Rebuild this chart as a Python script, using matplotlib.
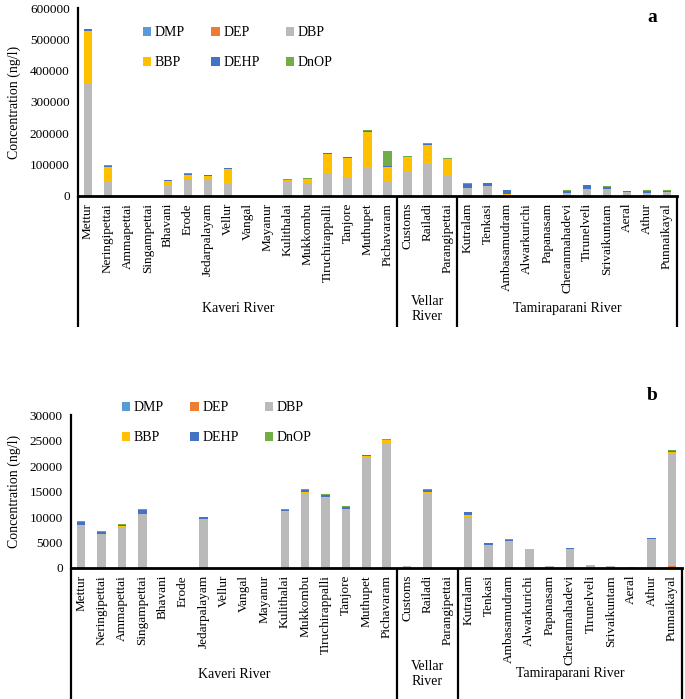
import numpy as np
import matplotlib
matplotlib.use('Agg')
import matplotlib.pyplot as plt

# Sampling sites (Kaveri 16, Vellar 3, Tamiraparani 11)
sites = ['Mettur', 'Neringipettai', 'Ammapettai', 'Singampettai', 'Bhavani', 'Erode',
         'Jedarpalayam', 'Vellur', 'Vangal', 'Mayanur', 'Kulithalai', 'Mukkombu',
         'Tiruchirappalli', 'Tanjore', 'Muthupet', 'Pichavaram',
         'Customs', 'Railadi', 'Parangipettai',
         'Kutralam', 'Tenkasi', 'Ambasamudram', 'Alwarkurichi', 'Papanasam',
         'Cheranmahadevi', 'Tirunelveli', 'Srivaikuntam', 'Aeral', 'Athur', 'Punnaikayal']
rivers = ['Kaveri River', 'Vellar\nRiver', 'Tamiraparani River']
river_sizes = [16, 3, 11]
compounds = ['DMP', 'DEP', 'DBP', 'BBP', 'DEHP', 'DnOP']

# Panel a (ng/l)
a_dmp = [1500, 800, 0, 0, 500, 500, 500, 500, 0, 0, 500, 500, 500, 500, 500, 300,
         500, 500, 500, 500, 500, 0, 0, 0, 300, 500, 300, 300, 0, 300]
a_dep = [0, 0, 0, 0, 0, 0, 0, 0, 0, 0, 0, 0, 0, 0, 0, 0,
         0, 0, 0, 0, 0, 1500, 0, 0, 0, 0, 0, 0, 0, 0]
a_dbp = [356000, 45000, 0, 0, 32000, 53000, 50000, 37000, 0, 0, 48000, 42500, 69000, 56000,
         93500, 45700, 76600, 103200, 67000, 26000, 31000, 2500, 0, 0, 9500, 21000, 23500,
         13500, 10000, 11500]
a_bbp = [169600, 47600, 0, 0, 16000, 14000, 14000, 48000, 0, 0, 3000, 10500, 64000, 64000,
         111500, 47000, 47000, 59600, 50000, 0, 0, 2500, 0, 0, 0, 0, 0, 0, 0, 0]
a_dehp = [5000, 2000, 0, 0, 2000, 3500, 2000, 2500, 0, 0, 1000, 1500, 2500, 2500, 2500, 2000,
          1500, 4000, 2000, 12000, 8500, 12000, 0, 0, 7500, 12500, 5500, 2000, 5000, 5500]
a_dnop = [1500, 2500, 0, 0, 1500, 1000, 1500, 1000, 0, 0, 1500, 1500, 2500, 2500, 1500, 48000,
          2500, 1000, 2300, 1500, 2000, 2000, 0, 0, 1500, 2000, 2500, 1500, 3000, 1500]

# Panel b (ng/l)
b_dmp = [0, 0, 0, 0, 0, 0, 0, 0, 0, 0, 0, 0, 0, 0, 0, 0,
         0, 0, 0, 0, 0, 0, 0, 220, 0, 0, 250, 0, 0, 0]
b_dep = [200, 0, 0, 200, 0, 0, 150, 0, 0, 0, 0, 0, 0, 0, 0, 0,
         50, 150, 0, 0, 0, 200, 0, 0, 0, 0, 0, 0, 0, 455]
b_dbp = [8050, 6630, 8125, 10330, 0, 0, 9400, 0, 0, 0, 11030, 14730, 13760, 11310, 21580, 24500,
         300, 14400, 0, 10060, 4290, 5000, 3450, 120, 3640, 550, 100, 100, 5525, 22050]
b_bbp = [150, 130, 60, 150, 0, 0, 130, 0, 0, 0, 200, 200, 150, 260, 320, 520,
         100, 260, 0, 320, 200, 60, 190, 0, 130, 0, 0, 0, 195, 330]
b_dehp = [700, 330, 330, 700, 0, 0, 250, 0, 0, 0, 150, 400, 450, 390, 200, 130,
          0, 520, 0, 590, 320, 200, 0, 50, 100, 0, 40, 0, 180, 130]
b_dnop = [130, 200, 80, 150, 0, 0, 130, 0, 0, 0, 100, 100, 100, 130, 130, 130,
          0, 200, 0, 100, 130, 130, 60, 0, 60, 50, 0, 120, 60, 130]

a_ticks = [0, 100000, 200000, 300000, 400000, 500000, 600000]
b_ticks = [0, 5000, 10000, 15000, 20000, 25000, 30000]

colors = {
    'DMP': '#5B9BD5',
    'DEP': '#ED7D31',
    'DBP': '#BABABA',
    'BBP': '#FFC000',
    'DEHP': '#4472C4',
    'DnOP': '#70AD47',
}

FIG_W, FIG_H = 685, 699
plt.rcParams['font.family'] = ['Liberation Serif', 'DejaVu Serif']


def px_box(left, right, top, bottom):
    # pixel box -> figure fraction rect
    return [left / FIG_W, 1 - bottom / FIG_H, (right - left) / FIG_W, (bottom - top) / FIG_H]


def draw_panel(fig, rect, series, ticks, label, label_xy, legend_xy, group_label_y, group_line_y,
               ax_bottom_px, ax_height_px):
    ax = fig.add_axes(rect)
    x = np.arange(len(sites))
    bottom = np.zeros(len(sites))
    handles = {}
    for name, vals in zip(compounds, series):
        vals = np.array(vals, dtype=float)
        bars = ax.bar(x, vals, width=0.42, bottom=bottom, color=colors[name],
                      edgecolor='none', linewidth=0, label=name)
        handles[name] = bars
        bottom += vals

    ax.set_xlim(-0.5, len(sites) - 0.5)
    ax.set_ylim(0, ticks[-1])
    ax.set_yticks(ticks)
    ax.set_yticklabels([str(t) for t in ticks], fontsize=9.5)
    ax.set_xticks(x)
    ax.set_xticklabels(sites, rotation=90, fontsize=9.5)
    ax.tick_params(axis='both', length=0)
    ax.tick_params(axis='x', pad=5)
    ax.tick_params(axis='y', pad=6)
    ax.set_ylabel('Concentration (ng/l)', fontsize=10, labelpad=6)

    for side in ['top', 'right']:
        ax.spines[side].set_visible(False)
    ax.spines['left'].set_linewidth(1.6)
    ax.spines['bottom'].set_linewidth(2.0)

    # river group box below the axis
    def frac(py):
        return -(py - ax_bottom_px) / ax_height_px

    trans = ax.get_xaxis_transform()
    edges = np.concatenate([[0], np.cumsum(river_sizes)]) - 0.5
    for e in edges:
        ax.plot([e, e], [0, frac(group_line_y)], transform=trans, color='black',
                linewidth=1.6, clip_on=False, solid_capstyle='butt')
    for i, name in enumerate(rivers):
        cx = (edges[i] + edges[i + 1]) / 2
        ax.text(cx, frac(group_label_y), name, transform=trans, ha='center', va='center',
                fontsize=10, linespacing=1.25)

    # legend laid out in rows of three
    order = ['DMP', 'BBP', 'DEP', 'DEHP', 'DBP', 'DnOP']
    fig.legend([handles[k] for k in order], order, ncol=3, frameon=False,
               loc='upper left', bbox_to_anchor=(legend_xy[0] / FIG_W, 1 - legend_xy[1] / FIG_H),
               fontsize=10, handlelength=0.6, handleheight=0.6, handletextpad=0.25,
               columnspacing=1.9, labelspacing=1.25, borderpad=0, borderaxespad=0)

    fig.text(label_xy[0] / FIG_W, 1 - label_xy[1] / FIG_H, label, fontsize=14,
             fontweight='bold', ha='center', va='center')
    return ax


def main():
    fig = plt.figure(figsize=(FIG_W / 100, FIG_H / 100), dpi=100)

    draw_panel(fig, px_box(78, 677, 8, 196),
               [a_dmp, a_dep, a_dbp, a_bbp, a_dehp, a_dnop], a_ticks,
               'a', (652, 18), (143, 26), 309, 327, 196, 188)

    draw_panel(fig, px_box(71, 682, 415, 568),
               [b_dmp, b_dep, b_dbp, b_bbp, b_dehp, b_dnop], b_ticks,
               'b', (652, 396), (122, 401), 674, 705, 568, 153)

    fig.savefig('out.png', dpi=100)


if __name__ == "__main__":
    main()
